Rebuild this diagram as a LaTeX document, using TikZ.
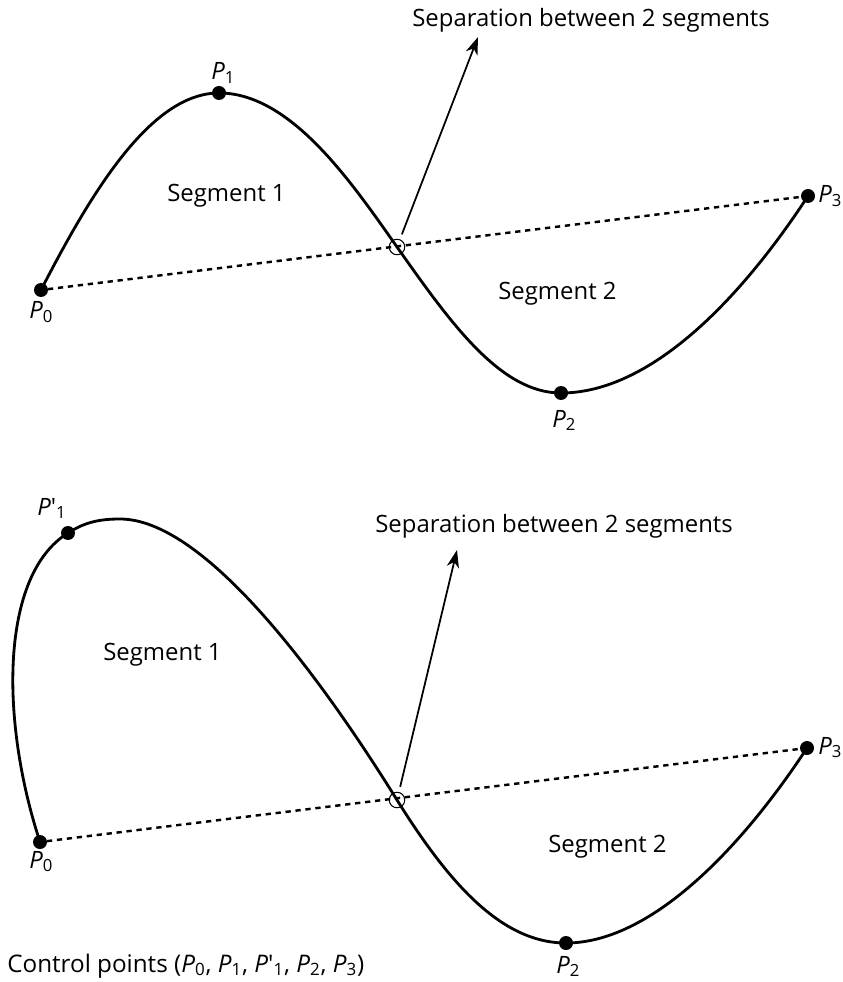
\documentclass[tikz,border=0pt]{standalone}
\usepackage{fontspec}
\setmainfont{Open Sans}
\usetikzlibrary{arrows.meta, positioning}

\newcommand{\Pl}[1]{\textit{P}\textsubscript{#1}}
\newcommand{\Ppl}[1]{\textit{P}\textquotesingle\textsubscript{#1}}

\begin{document}
\begin{tikzpicture}[
  x=0.02cm, y=-0.02cm,
  % ---- styles ----
  ctrl/.style={%
    circle, fill=black, inner sep=0pt, minimum size=0.28cm, outer sep=0pt,
  },
  joint/.style={%
    circle, draw=black, line width=0.6pt, inner sep=0pt, minimum size=0.31cm,
  },
  curve/.style={line width=1.6pt, line join=round},
  chord/.style={line width=1.4pt, dash pattern=on 3pt off 2.7pt},
  sepline/.style={line width=1pt, -{Stealth[length=10pt, width=7pt, inset=3pt]}},
  txt/.style={font=\fontsize{13.6}{16}\selectfont, inner sep=0pt, anchor=base west},
]

\useasboundingbox (0,0) rectangle (842,982);

% =========================================================
% top curve  --  P0 P1 P2 P3
% =========================================================
\node[ctrl]  (a0) at (41,290)  {};
\node[ctrl]  (a1) at (219,93)  {};
\node[ctrl]  (a2) at (561,393) {};
\node[ctrl]  (a3) at (808,196) {};
\node[joint] (ax) at (397,247) {};

\draw[chord] (a0) -- (a3);

\draw[curve] (a0.center) .. controls (90,195) and (150,93) .. (a1.center)
  .. controls (290,93) and (350,180) .. (ax.center)
  .. controls (450,322) and (500,393) .. (a2.center)
  .. controls (650,393) and (740,300) .. (a3.center);

\node[txt] (la0) at (29,319)  {\Pl{0}};
\node[txt] (la1) at (211,80)  {\Pl{1}};
\node[txt] (la2) at (552,427) {\Pl{2}};
\node[txt] (la3) at (818,203) {\Pl{3}};

\node[txt] (sa1) at (167,202) {Segment 1};
\node[txt] (sa2) at (498,300) {Segment 2};

\node[txt] (sepa) at (412,27) {Separation between 2 segments};
\coordinate (tipa) at (478,37);
\draw[sepline, shorten <=3pt] (ax) -- (tipa);

% =========================================================
% bottom curve  --  P0 P'1 P2 P3
% =========================================================
\node[ctrl]  (b0) at (40,842)  {};
\node[ctrl]  (b1) at (68,533)  {};
\node[ctrl]  (b2) at (566,943) {};
\node[ctrl]  (b3) at (807,748) {};
\node[joint] (bx) at (397,800) {};
\coordinate (btop) at (120,519);

\draw[chord] (b0) -- (b3);

\draw[curve] (b0.center) .. controls (0,720) and (0,575) .. (b1.center)
  .. controls (85,522) and (100,519) .. (btop)
  .. controls (200,519) and (310,660) .. (bx.center)
  .. controls (447,880) and (500,943) .. (b2.center)
  .. controls (650,943) and (740,850) .. (b3.center);

\node[txt] (lb0) at (29,868)  {\Pl{0}};
\node[txt] (lb1) at (37,515)  {\Ppl{1}};
\node[txt] (lb2) at (556,973) {\Pl{2}};
\node[txt] (lb3) at (818,754) {\Pl{3}};

\node[txt] (sb1) at (103,660) {Segment 1};
\node[txt] (sb2) at (548,852) {Segment 2};

\node[txt] (sepb) at (375,532) {Separation between 2 segments};
\coordinate (tipb) at (457,550);
\draw[sepline, shorten <=3pt] (bx) -- (tipb);

% =========================================================
% caption
% =========================================================
\node[txt, font=\fontsize{13.8}{17}\selectfont] (cap) at (7,972)
  {Control points (\Pl{0}, \Pl{1}, \Ppl{1}, \Pl{2}, \Pl{3})};

\end{tikzpicture}
\end{document}
